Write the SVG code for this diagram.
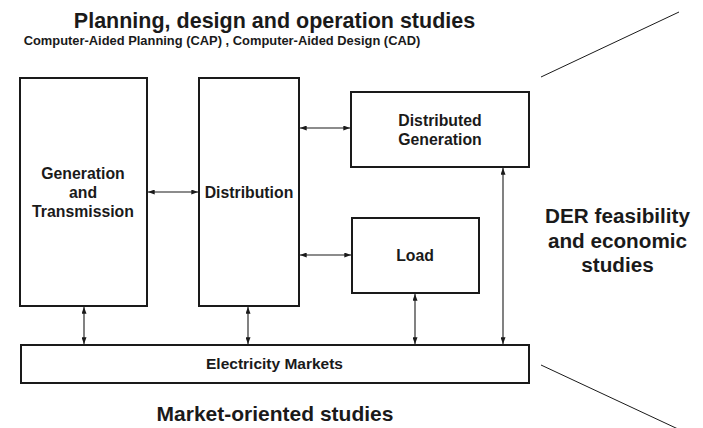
<svg xmlns="http://www.w3.org/2000/svg" width="703" height="428" viewBox="0 0 703 428">
<style>
.box{fill:#fff;stroke:#1a1a1a;stroke-width:2}
.t{font-family:"Liberation Sans",Arial,Helvetica,sans-serif;font-weight:bold;fill:#1a1a1a;text-anchor:middle}
.lbl{font-size:15.8px}
.big{font-size:21.5px}
.con{stroke:#1a1a1a;stroke-width:1.1;fill:none;marker-start:url(#ah);marker-end:url(#ah)}
.diag{stroke:#1a1a1a;stroke-width:1;fill:none}
</style>
<defs>
<marker id="ah" viewBox="0 0 8 6" refX="8" refY="3" markerWidth="7" markerHeight="5" markerUnits="userSpaceOnUse" orient="auto-start-reverse">
<path d="M0,0 L8,3 L0,6 Z" fill="#1a1a1a"/>
</marker>
</defs>
<rect width="703" height="428" fill="#fff"/>
<g id="headings">
<text class="t big" x="274.5" y="28">Planning, design and operation studies</text>
<text class="t" style="font-size:12.9px" x="222" y="44.5">Computer-Aided Planning (CAP) , Computer-Aided Design (CAD)</text>
<text class="t" style="font-size:20.7px" x="617.5" y="223">DER feasibility</text>
<text class="t" style="font-size:20.7px" x="617.5" y="247.5">and economic</text>
<text class="t" style="font-size:20.7px" x="617.5" y="272">studies</text>
<text class="t" style="font-size:21px" x="275" y="421">Market-oriented studies</text>
</g>
<g id="diagonals">
<line class="diag" x1="541" y1="77" x2="679" y2="12"/>
<line class="diag" x1="541" y1="365" x2="678" y2="429"/>
</g>
<g id="connectors">
<line class="con" x1="148" y1="192" x2="198" y2="192"/>
<line class="con" x1="300" y1="128" x2="350" y2="128"/>
<line class="con" x1="300" y1="255" x2="351" y2="255"/>
<line class="con" x1="84" y1="307" x2="84" y2="344"/>
<line class="con" x1="248" y1="307" x2="248" y2="344"/>
<line class="con" x1="415" y1="294" x2="415" y2="344"/>
<line class="con" x1="503" y1="168" x2="503" y2="344"/>
</g>
<g id="gen-trans">
<rect class="box" x="20" y="78" width="127" height="228"/>
<text class="t lbl" x="83" y="178.5">Generation</text>
<text class="t lbl" x="83" y="197.5">and</text>
<text class="t lbl" x="83" y="216.5">Transmission</text>
</g>
<g id="distribution">
<rect class="box" x="199" y="78" width="100" height="228"/>
<text class="t lbl" x="249" y="197.5">Distribution</text>
</g>
<g id="distributed-generation">
<rect class="box" x="351" y="92" width="178" height="75"/>
<text class="t lbl" x="440" y="125.5">Distributed</text>
<text class="t lbl" x="440" y="144.5">Generation</text>
</g>
<g id="load">
<rect class="box" x="352" y="218" width="127" height="75"/>
<text class="t lbl" x="415" y="260.5">Load</text>
</g>
<g id="markets">
<rect class="box" x="21" y="345" width="508" height="38"/>
<text class="t" style="font-size:15.5px" x="274.5" y="368.5">Electricity Markets</text>
</g>
</svg>
